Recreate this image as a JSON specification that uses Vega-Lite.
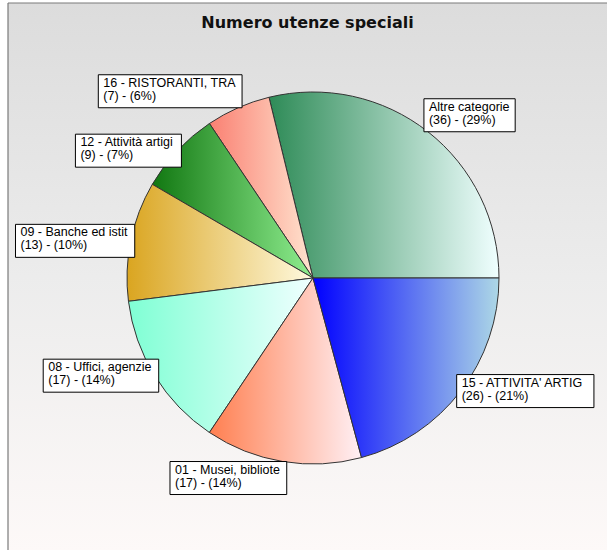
{
  "$schema": "https://vega.github.io/schema/vega-lite/v6.json",
  "width": 599,
  "height": 547,
  "autosize": {"type": "none"},
  "padding": {"left": 8, "top": 3, "right": 0, "bottom": 0},
  "background": "white",
  "config": {"view": {"stroke": null}},
  "title": {
    "text": "Numero utenze speciali",
    "font": "DejaVu Sans",
    "fontSize": 16,
    "fontWeight": "bold",
    "color": "#111111",
    "anchor": "middle",
    "frame": "group",
    "baseline": "alphabetic",
    "offset": -42,
    "zindex": 2
  },
  "data": {
    "values": [
      {"cat": "Altre categorie", "n": 36, "pct": "(36) - (29%)", "ord": 1},
      {"cat": "16 - RISTORANTI, TRA", "n": 7, "pct": "(7) - (6%)", "ord": 2},
      {"cat": "12 - Attività artigi", "n": 9, "pct": "(9) - (7%)", "ord": 3},
      {"cat": "09 - Banche ed istit", "n": 13, "pct": "(13) - (10%)", "ord": 4},
      {"cat": "08 - Uffici, agenzie", "n": 17, "pct": "(17) - (14%)", "ord": 5},
      {"cat": "01 - Musei, bibliote", "n": 17, "pct": "(17) - (14%)", "ord": 6},
      {"cat": "15 - ATTIVITA' ARTIG", "n": 26, "pct": "(26) - (21%)", "ord": 7}
    ]
  },
  "layer": [
    {
      "data": {"values": [{"frame": 1}]},
      "mark": {
        "type": "rect",
        "color": {
          "gradient": "linear", "x1": 0, "y1": 0, "x2": 0, "y2": 1,
          "stops": [
            {"offset": 0, "color": "#dcdcdc"},
            {"offset": 0.5, "color": "#ececec"},
            {"offset": 1, "color": "#fdf9f8"}
          ]
        }
      },
      "encoding": {
        "x": {"value": 0},
        "x2": {"value": "width"},
        "y": {"value": 0},
        "y2": {"value": "height"}
      }
    },
    {
      "data": {"values": [{"frame": 1}]},
      "mark": {"type": "rule", "color": "#7a7a7a", "strokeWidth": 1.2},
      "encoding": {"x": {"value": 0}, "x2": {"value": "width"}, "y": {"value": 0}}
    },
    {
      "data": {"values": [{"frame": 1}]},
      "mark": {"type": "rule", "color": "#7a7a7a", "strokeWidth": 1.2},
      "encoding": {"x": {"value": 0}, "y": {"value": 0}, "y2": {"value": "height"}}
    },
    {
      "transform": [
        {"stack": "n", "groupby": [], "offset": "normalize", "sort": [{"field": "ord"}], "as": ["a0", "a1"]},
        {"filter": {"field": "cat", "equal": "Altre categorie"}}
      ],
      "mark": {"type": "arc", "radius": 186, "stroke": "#333333", "strokeWidth": 1,
        "color": {"gradient": "linear", "x1": 0, "y1": 0, "x2": 1, "y2": 0, "stops": [{"offset": 0, "color": "#2e8b57"}, {"offset": 1, "color": "#f0ffff"}]}},
      "encoding": {
        "x": {"datum": 0, "type": "quantitative", "scale": {"domain": [-305, 294], "nice": false, "zero": false}, "axis": null},
        "y": {"datum": 0, "type": "quantitative", "scale": {"domain": [-272, 275], "nice": false, "zero": false}, "axis": null},
        "theta": {"field": "a0", "type": "quantitative", "scale": {"domain": [0, 1], "range": [1.5707963, -4.712389]}},
        "theta2": {"field": "a1"}
      }
    },
    {
      "transform": [
        {"stack": "n", "groupby": [], "offset": "normalize", "sort": [{"field": "ord"}], "as": ["a0", "a1"]},
        {"filter": {"field": "cat", "equal": "16 - RISTORANTI, TRA"}}
      ],
      "mark": {"type": "arc", "radius": 186, "stroke": "#333333", "strokeWidth": 1,
        "color": {"gradient": "linear", "x1": 0, "y1": 0, "x2": 1, "y2": 0, "stops": [{"offset": 0, "color": "#fa8072"}, {"offset": 1, "color": "#ffe4d0"}]}},
      "encoding": {
        "x": {"datum": 0, "type": "quantitative", "scale": {"domain": [-305, 294], "nice": false, "zero": false}, "axis": null},
        "y": {"datum": 0, "type": "quantitative", "scale": {"domain": [-272, 275], "nice": false, "zero": false}, "axis": null},
        "theta": {"field": "a0", "type": "quantitative", "scale": {"domain": [0, 1], "range": [1.5707963, -4.712389]}},
        "theta2": {"field": "a1"}
      }
    },
    {
      "transform": [
        {"stack": "n", "groupby": [], "offset": "normalize", "sort": [{"field": "ord"}], "as": ["a0", "a1"]},
        {"filter": {"field": "cat", "equal": "12 - Attività artigi"}}
      ],
      "mark": {"type": "arc", "radius": 186, "stroke": "#333333", "strokeWidth": 1,
        "color": {"gradient": "linear", "x1": 0, "y1": 0, "x2": 1, "y2": 0, "stops": [{"offset": 0, "color": "#117711"}, {"offset": 1, "color": "#90ee90"}]}},
      "encoding": {
        "x": {"datum": 0, "type": "quantitative", "scale": {"domain": [-305, 294], "nice": false, "zero": false}, "axis": null},
        "y": {"datum": 0, "type": "quantitative", "scale": {"domain": [-272, 275], "nice": false, "zero": false}, "axis": null},
        "theta": {"field": "a0", "type": "quantitative", "scale": {"domain": [0, 1], "range": [1.5707963, -4.712389]}},
        "theta2": {"field": "a1"}
      }
    },
    {
      "transform": [
        {"stack": "n", "groupby": [], "offset": "normalize", "sort": [{"field": "ord"}], "as": ["a0", "a1"]},
        {"filter": {"field": "cat", "equal": "09 - Banche ed istit"}}
      ],
      "mark": {"type": "arc", "radius": 186, "stroke": "#333333", "strokeWidth": 1,
        "color": {"gradient": "linear", "x1": 0, "y1": 0, "x2": 1, "y2": 0, "stops": [{"offset": 0, "color": "#daa520"}, {"offset": 1, "color": "#fffae0"}]}},
      "encoding": {
        "x": {"datum": 0, "type": "quantitative", "scale": {"domain": [-305, 294], "nice": false, "zero": false}, "axis": null},
        "y": {"datum": 0, "type": "quantitative", "scale": {"domain": [-272, 275], "nice": false, "zero": false}, "axis": null},
        "theta": {"field": "a0", "type": "quantitative", "scale": {"domain": [0, 1], "range": [1.5707963, -4.712389]}},
        "theta2": {"field": "a1"}
      }
    },
    {
      "transform": [
        {"stack": "n", "groupby": [], "offset": "normalize", "sort": [{"field": "ord"}], "as": ["a0", "a1"]},
        {"filter": {"field": "cat", "equal": "08 - Uffici, agenzie"}}
      ],
      "mark": {"type": "arc", "radius": 186, "stroke": "#333333", "strokeWidth": 1,
        "color": {"gradient": "linear", "x1": 0, "y1": 0, "x2": 1, "y2": 0, "stops": [{"offset": 0, "color": "#7fffd4"}, {"offset": 1, "color": "#f0ffff"}]}},
      "encoding": {
        "x": {"datum": 0, "type": "quantitative", "scale": {"domain": [-305, 294], "nice": false, "zero": false}, "axis": null},
        "y": {"datum": 0, "type": "quantitative", "scale": {"domain": [-272, 275], "nice": false, "zero": false}, "axis": null},
        "theta": {"field": "a0", "type": "quantitative", "scale": {"domain": [0, 1], "range": [1.5707963, -4.712389]}},
        "theta2": {"field": "a1"}
      }
    },
    {
      "transform": [
        {"stack": "n", "groupby": [], "offset": "normalize", "sort": [{"field": "ord"}], "as": ["a0", "a1"]},
        {"filter": {"field": "cat", "equal": "01 - Musei, bibliote"}}
      ],
      "mark": {"type": "arc", "radius": 186, "stroke": "#333333", "strokeWidth": 1,
        "color": {"gradient": "linear", "x1": 0, "y1": 0, "x2": 1, "y2": 0, "stops": [{"offset": 0, "color": "#ff7f50"}, {"offset": 1, "color": "#fff0f5"}]}},
      "encoding": {
        "x": {"datum": 0, "type": "quantitative", "scale": {"domain": [-305, 294], "nice": false, "zero": false}, "axis": null},
        "y": {"datum": 0, "type": "quantitative", "scale": {"domain": [-272, 275], "nice": false, "zero": false}, "axis": null},
        "theta": {"field": "a0", "type": "quantitative", "scale": {"domain": [0, 1], "range": [1.5707963, -4.712389]}},
        "theta2": {"field": "a1"}
      }
    },
    {
      "transform": [
        {"stack": "n", "groupby": [], "offset": "normalize", "sort": [{"field": "ord"}], "as": ["a0", "a1"]},
        {"filter": {"field": "cat", "equal": "15 - ATTIVITA' ARTIG"}}
      ],
      "mark": {"type": "arc", "radius": 186, "stroke": "#333333", "strokeWidth": 1,
        "color": {"gradient": "linear", "x1": 0, "y1": 0, "x2": 1, "y2": 0, "stops": [{"offset": 0, "color": "#0000ff"}, {"offset": 1, "color": "#add8e6"}]}},
      "encoding": {
        "x": {"datum": 0, "type": "quantitative", "scale": {"domain": [-305, 294], "nice": false, "zero": false}, "axis": null},
        "y": {"datum": 0, "type": "quantitative", "scale": {"domain": [-272, 275], "nice": false, "zero": false}, "axis": null},
        "theta": {"field": "a0", "type": "quantitative", "scale": {"domain": [0, 1], "range": [1.5707963, -4.712389]}},
        "theta2": {"field": "a1"}
      }
    },
    {
      "transform": [
        {"joinaggregate": [{"op": "sum", "field": "n", "as": "total"}]},
        {"window": [{"op": "sum", "field": "n", "as": "cum"}], "sort": [{"field": "ord"}], "frame": [null, 0]},
        {"calculate": "2*PI*(datum.cum - datum.n/2)/datum.total", "as": "phi"},
        {"calculate": "186*cos(datum.phi)", "as": "ax"},
        {"calculate": "186*sin(datum.phi)", "as": "ay"},
        {"calculate": "datum.phi*180/PI", "as": "deg"},
        {"calculate": "0.54*length(datum.cat) - 0.30*(length(datum.cat)-length(replace(datum.cat, regexp(\"[iljI']\",\"g\"), \"\"))) - 0.23*(length(datum.cat)-length(replace(datum.cat, regexp(\"[tfr ,.()-]\",\"g\"), \"\"))) + 0.15*(length(datum.cat)-length(replace(datum.cat, regexp(\"[A-HJ-LNO-VXYZ]\",\"g\"), \"\"))) + 0.32*(length(datum.cat)-length(replace(datum.cat, regexp(\"[mMW%]\",\"g\"), \"\")))", "as": "wem"},
        {"calculate": "datum.wem*12.5 + 10", "as": "bw"},
        {"calculate": "cos(datum.phi) >= 0 ? datum.ax - 4 : datum.ax + 4 - datum.bw", "as": "bx0"},
        {"calculate": "datum.bx0 + datum.bw", "as": "bx1"},
        {"calculate": "(datum.deg > 45 && datum.deg < 135) ? datum.ay : ((datum.deg > 225 && datum.deg < 315) ? datum.ay - 33 : datum.ay - 16.5)", "as": "by0"},
        {"calculate": "datum.by0 + 33", "as": "by1"}
      ],
      "mark": {"type": "rect", "fill": "white", "stroke": "#000000", "strokeWidth": 1},
      "encoding": {
        "x": {"field": "bx0", "type": "quantitative", "scale": {"domain": [-305, 294], "nice": false, "zero": false}, "axis": null},
        "x2": {"field": "bx1"},
        "y": {"field": "by0", "type": "quantitative", "scale": {"domain": [-272, 275], "nice": false, "zero": false}, "axis": null},
        "y2": {"field": "by1"}
      }
    },
    {
      "transform": [
        {"joinaggregate": [{"op": "sum", "field": "n", "as": "total"}]},
        {"window": [{"op": "sum", "field": "n", "as": "cum"}], "sort": [{"field": "ord"}], "frame": [null, 0]},
        {"calculate": "2*PI*(datum.cum - datum.n/2)/datum.total", "as": "phi"},
        {"calculate": "186*cos(datum.phi)", "as": "ax"},
        {"calculate": "186*sin(datum.phi)", "as": "ay"},
        {"calculate": "datum.phi*180/PI", "as": "deg"},
        {"calculate": "0.54*length(datum.cat) - 0.30*(length(datum.cat)-length(replace(datum.cat, regexp(\"[iljI']\",\"g\"), \"\"))) - 0.23*(length(datum.cat)-length(replace(datum.cat, regexp(\"[tfr ,.()-]\",\"g\"), \"\"))) + 0.15*(length(datum.cat)-length(replace(datum.cat, regexp(\"[A-HJ-LNO-VXYZ]\",\"g\"), \"\"))) + 0.32*(length(datum.cat)-length(replace(datum.cat, regexp(\"[mMW%]\",\"g\"), \"\")))", "as": "wem"},
        {"calculate": "datum.wem*12.5 + 10", "as": "bw"},
        {"calculate": "cos(datum.phi) >= 0 ? datum.ax - 4 : datum.ax + 4 - datum.bw", "as": "bx0"},
        {"calculate": "(datum.deg > 45 && datum.deg < 135) ? datum.ay : ((datum.deg > 225 && datum.deg < 315) ? datum.ay - 33 : datum.ay - 16.5)", "as": "by0"},
        {"calculate": "datum.bx0 + 5", "as": "tx"},
        {"calculate": "datum.by0 + 31", "as": "ty"},
        {"calculate": "[datum.cat, datum.pct]", "as": "lab"}
      ],
      "mark": {"type": "text", "align": "left", "baseline": "top", "font": "Liberation Sans", "fontSize": 12.5, "lineHeight": 13, "color": "#000000"},
      "encoding": {
        "x": {"field": "tx", "type": "quantitative", "scale": {"domain": [-305, 294], "nice": false, "zero": false}, "axis": null},
        "y": {"field": "ty", "type": "quantitative", "scale": {"domain": [-272, 275], "nice": false, "zero": false}, "axis": null},
        "text": {"field": "lab"}
      }
    }
  ]
}
